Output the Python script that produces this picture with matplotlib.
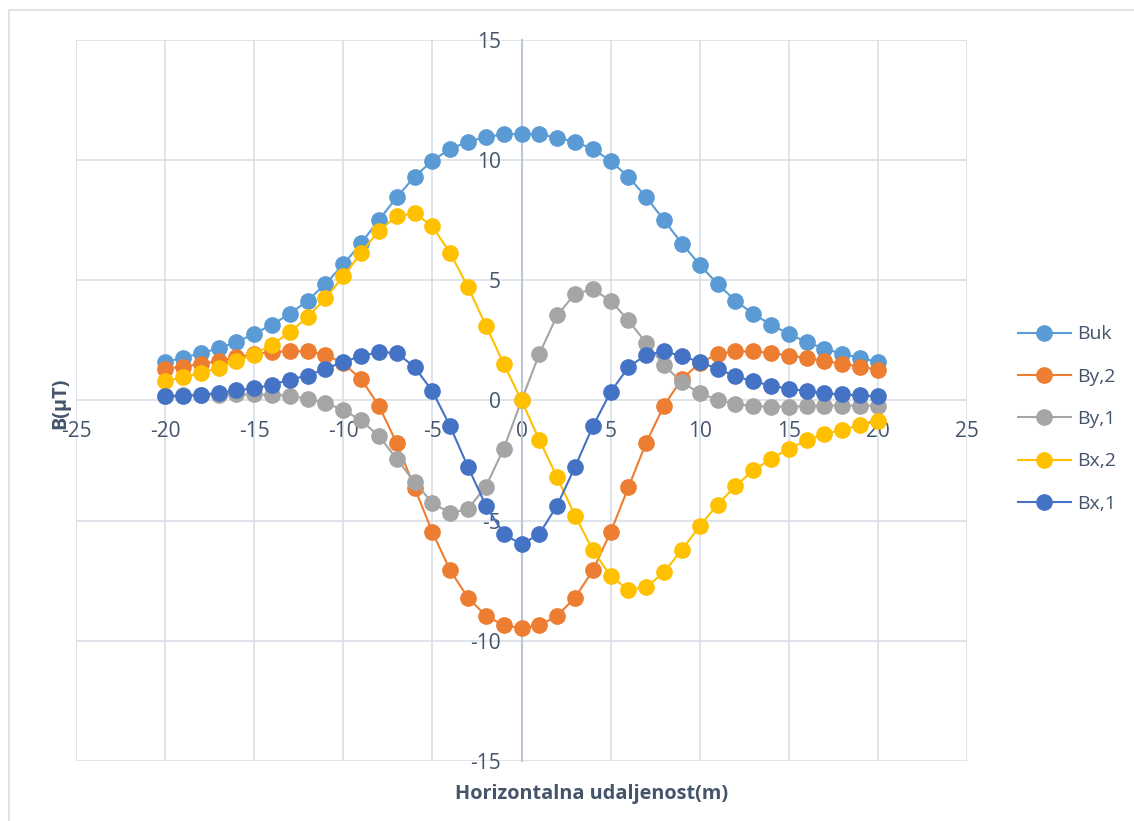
import numpy as np
import matplotlib
matplotlib.use("Agg")
import matplotlib.pyplot as plt
from matplotlib.patches import Rectangle

plt.rcParams['font.family'] = ['Open Sans', 'DejaVu Sans']
plt.rcParams['axes.unicode_minus'] = False

x = list(range(-20, 21))

buk = [1.60, 1.78, 1.96, 2.17, 2.43, 2.77, 3.16, 3.60, 4.16, 4.85, 5.66,
       6.55, 7.51, 8.46, 9.31, 9.98, 10.47, 10.77, 10.97, 11.07, 11.10,
       11.07, 10.94, 10.76, 10.47, 9.97, 9.30, 8.46, 7.50, 6.53, 5.65,
       4.85, 4.16, 3.60, 3.16, 2.77, 2.43, 2.16, 1.94, 1.78, 1.60]

by2 = [1.32, 1.41, 1.53, 1.64, 1.80, 1.94, 2.01, 2.05, 2.05, 1.91, 1.55,
       0.89, -0.22, -1.78, -3.63, -5.48, -7.07, -8.21, -8.95, -9.36, -9.46,
       -9.36, -8.96, -8.21, -7.07, -5.48, -3.61, -1.75, -0.21, 0.90, 1.55,
       1.94, 2.04, 2.04, 1.98, 1.87, 1.78, 1.64, 1.53, 1.41, 1.28]

by1 = [0.20, 0.21, 0.22, 0.24, 0.25, 0.25, 0.24, 0.20, 0.07, -0.11, -0.39,
       -0.83, -1.48, -2.43, -3.40, -4.26, -4.69, -4.51, -3.58, -2.01, 0.0,
       1.94, 3.54, 4.44, 4.62, 4.16, 3.33, 2.39, 1.46, 0.76, 0.30,
       0.03, -0.14, -0.24, -0.25, -0.25, -0.24, -0.21, -0.21, -0.21, -0.21]

bx2 = [0.80, 0.97, 1.15, 1.36, 1.64, 1.91, 2.33, 2.84, 3.47, 4.26, 5.16,
       6.15, 7.07, 7.67, 7.80, 7.24, 6.13, 4.72, 3.12, 1.53, 0.0,
       -1.64, -3.19, -4.79, -6.21, -7.31, -7.87, -7.77, -7.14, -6.21, -5.23,
       -4.33, -3.57, -2.91, -2.43, -2.01, -1.66, -1.41, -1.21, -1.04, -0.86]

bx1 = [0.17, 0.19, 0.24, 0.32, 0.42, 0.51, 0.65, 0.87, 1.04, 1.32, 1.60,
       1.85, 2.01, 1.98, 1.39, 0.39, -1.08, -2.77, -4.37, -5.55, -5.99,
       -5.55, -4.37, -2.77, -1.08, 0.35, 1.39, 1.90, 2.04, 1.85, 1.60,
       1.32, 1.01, 0.80, 0.62, 0.49, 0.39, 0.30, 0.25, 0.21, 0.17]

series = [("Buk", buk, "#5B9BD5"),
          ("By,2", by2, "#ED7D31"),
          ("By,1", by1, "#A5A5A5"),
          ("Bx,2", bx2, "#FFC000"),
          ("Bx,1", bx1, "#4472C4")]

text_col = "#44546A"
grid_col = "#D9DEE6"

fig = plt.figure(figsize=(11.34, 8.21), dpi=100)
ax = fig.add_axes([76/1134, 1 - 761/821, (967 - 76)/1134, (761 - 40)/821])

# chart area border (only top/left visible in the picture)
fig.patches.append(Rectangle((9/1134, -0.1), 1.2, 1 - 10/821 + 0.1,
                             transform=fig.transFigure, fill=False,
                             edgecolor=grid_col, lw=1.2))

for name, vals, col in series:
    ax.plot(x, vals, color=col, lw=1.5, marker='o', markersize=11,
            label=name, zorder=3)

ax.set_xlim(-25, 25)
ax.set_ylim(-15, 15)
ax.set_xticks(np.arange(-25, 26, 5))
ax.set_yticks(np.arange(-15, 16, 5))

ax.grid(True, color=grid_col, lw=1.2, zorder=0)
for gl in ax.get_xgridlines() + ax.get_ygridlines():
    gl.set_clip_on(False)
ax.set_axisbelow(True)

ax.spines['left'].set_position('zero')
ax.spines['bottom'].set_position('zero')
ax.spines['left'].set_color('#BCC6D6')
ax.spines['left'].set_linewidth(1.5)
ax.spines['bottom'].set_visible(False)
ax.spines['top'].set_visible(False)
ax.spines['right'].set_visible(False)

ax.tick_params(axis='y', length=0, pad=15, labelsize=15, labelcolor=text_col)
ax.tick_params(axis='x', length=0, pad=15, labelsize=15, labelcolor=text_col)

fig.text(592/1134, 1 - 794/821, "Horizontalna udaljenost(m)", ha='center',
         va='center', fontsize=14.3, fontweight='bold', color=text_col)
fig.text(60/1134, 1 - 403/821, "B(μT)", ha='center', va='center',
         rotation=90, fontsize=14.3, fontweight='bold', color=text_col)

ax.legend(loc='center left', bbox_to_anchor=(1018/1134, 1 - 419/821),
          bbox_transform=fig.transFigure, frameon=False, fontsize=14,
          labelcolor=text_col, handlelength=2.7, handletextpad=0.35,
          labelspacing=1.25, borderpad=0, borderaxespad=0)

fig.savefig("out.png", dpi=100)
